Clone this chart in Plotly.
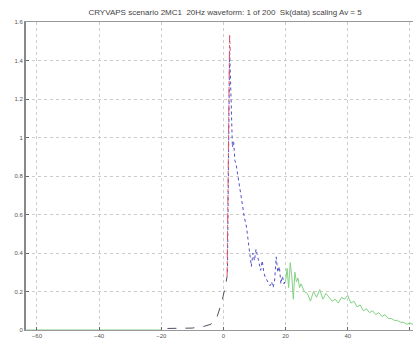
import plotly.graph_objects as go

title_text = "CRYVAPS scenario 2MC1  20Hz waveform: 1 of 200  Sk(data) scaling Av = 5"

# left green baseline segment
green_left_x = [-63.5, -50, -40, -30, -20]
green_left_y = [0.0, 0.0, 0.0, 0.0, 0.0]

# black dashed leading edge
black_x = [-18, -15, -12, -10, -8, -6, -4, -3, -2, -1.3, -0.8, -0.3, 0.3, 0.8, 1.2]
black_y = [0.008, 0.008, 0.01, 0.01, 0.015, 0.02, 0.03, 0.045, 0.07, 0.10, 0.13, 0.16, 0.20, 0.24, 0.28]

# red dash-dot spike
red_x = [1.2, 1.4, 1.6, 1.8, 2.0, 2.2]
red_y = [0.28, 0.6, 1.0, 1.35, 1.53, 1.45]

# blue dotted decay
blue_x = [1.3, 1.7, 2.0, 2.3, 2.6, 2.9, 3.3, 3.7, 4.1, 4.5, 5.0, 5.4, 5.8, 6.3, 6.8, 7.4, 7.9, 8.3, 8.7,
          9.0, 9.5, 10.0, 10.5, 11.0, 11.5, 12.0, 12.5, 13.0, 13.5, 14.0, 14.5, 15.0, 15.5, 16.0, 16.5,
          17.0, 17.5, 18.0, 18.5, 19.0, 19.5, 20.0]
blue_y = [0.3, 0.9, 1.45, 1.3, 1.1, 0.95, 0.98, 0.88, 0.86, 0.82, 0.76, 0.72, 0.68, 0.62, 0.58, 0.54, 0.48,
          0.42, 0.38, 0.33, 0.40, 0.36, 0.42, 0.38, 0.34, 0.31, 0.36, 0.30, 0.27, 0.26, 0.24, 0.23, 0.25,
          0.22, 0.26, 0.38, 0.30, 0.33, 0.24, 0.28, 0.24, 0.26]

# green trailing decay
green_x = [20.0, 20.5, 21.0, 21.5, 22.0, 22.5, 23.0, 23.5, 24.0, 24.5, 25.0, 26.0, 27.0, 28.0, 29.0, 30.0,
           31.0, 32.0, 33.0, 34.0, 35.0, 36.0, 37.0, 38.0, 39.0, 40.0, 41.0, 42.0, 43.0, 44.0, 45.0, 46.0,
           47.0, 48.0, 49.0, 50.0, 51.0, 52.0, 53.0, 54.0, 55.0, 56.0, 57.0, 58.0, 59.0, 60.0, 61.0]
green_y = [0.25, 0.32, 0.22, 0.35, 0.28, 0.16, 0.30, 0.25, 0.27, 0.22, 0.24, 0.20, 0.19, 0.15, 0.20, 0.17,
           0.21, 0.16, 0.19, 0.17, 0.15, 0.16, 0.14, 0.17, 0.16, 0.18, 0.14, 0.15, 0.12, 0.13, 0.10, 0.11,
           0.09, 0.10, 0.08, 0.09, 0.07, 0.08, 0.06, 0.06, 0.05, 0.05, 0.04, 0.04, 0.03, 0.035, 0.03]

x_ticks = [-60, -40, -20, 0, 20, 40, 60]
y_ticks = [0, 0.2, 0.4, 0.6, 0.8, 1, 1.2, 1.4, 1.6]
y_tick_text = ["0", "0.2", "0.4", "0.6", "0.8", "1", "1.2", "1.4", "1.6"]

fig = go.Figure()
fig.add_trace(go.Scatter(x=green_left_x, y=green_left_y, mode="lines",
                         line=dict(color="rgb(130,210,130)", width=1)))
fig.add_trace(go.Scatter(x=black_x, y=black_y, mode="lines",
                         line=dict(color="rgb(80,80,100)", width=1, dash="dash")))
fig.add_trace(go.Scatter(x=green_x, y=green_y, mode="lines",
                         line=dict(color="rgb(130,210,130)", width=1)))
fig.add_trace(go.Scatter(x=blue_x, y=blue_y, mode="lines",
                         line=dict(color="rgb(80,80,200)", width=1, dash="dot")))
fig.add_trace(go.Scatter(x=red_x, y=red_y, mode="lines",
                         line=dict(color="rgb(225,80,100)", width=1, dash="dashdot")))

axis_font = dict(family="Liberation Sans, Arial, sans-serif", size=6, color="#555")
fig.update_layout(
    width=413, height=345,
    margin=dict(l=26, r=0, t=22, b=15, autoexpand=False),
    paper_bgcolor="white", plot_bgcolor="white",
    showlegend=False,
    title=dict(text=title_text, x=0.545, xanchor="center", y=0.966, yanchor="middle",
               font=dict(family="Liberation Sans, Arial, sans-serif", size=8, color="#444")),
    xaxis=dict(range=[-63.5, 61], tickvals=x_ticks, ticks="inside", ticklen=3, tickcolor="#666",
               showgrid=True, gridcolor="#cccccc", griddash="dot", gridwidth=1,
               showline=True, linecolor="#999", linewidth=1, mirror=True, automargin=False,
               zeroline=False, tickfont=axis_font),
    yaxis=dict(range=[0, 1.6], tickvals=y_ticks, ticktext=y_tick_text, ticks="inside", ticklen=3,
               tickcolor="#666", showgrid=True, gridcolor="#cccccc", griddash="dot", gridwidth=1,
               showline=True, linecolor="#888", linewidth=2, mirror=True, automargin=False,
               zeroline=False, tickfont=axis_font),
)

fig.write_html("out.html", config={"displayModeBar": False},
               post_script="document.body.style.margin='0';document.body.style.overflow='hidden';")
